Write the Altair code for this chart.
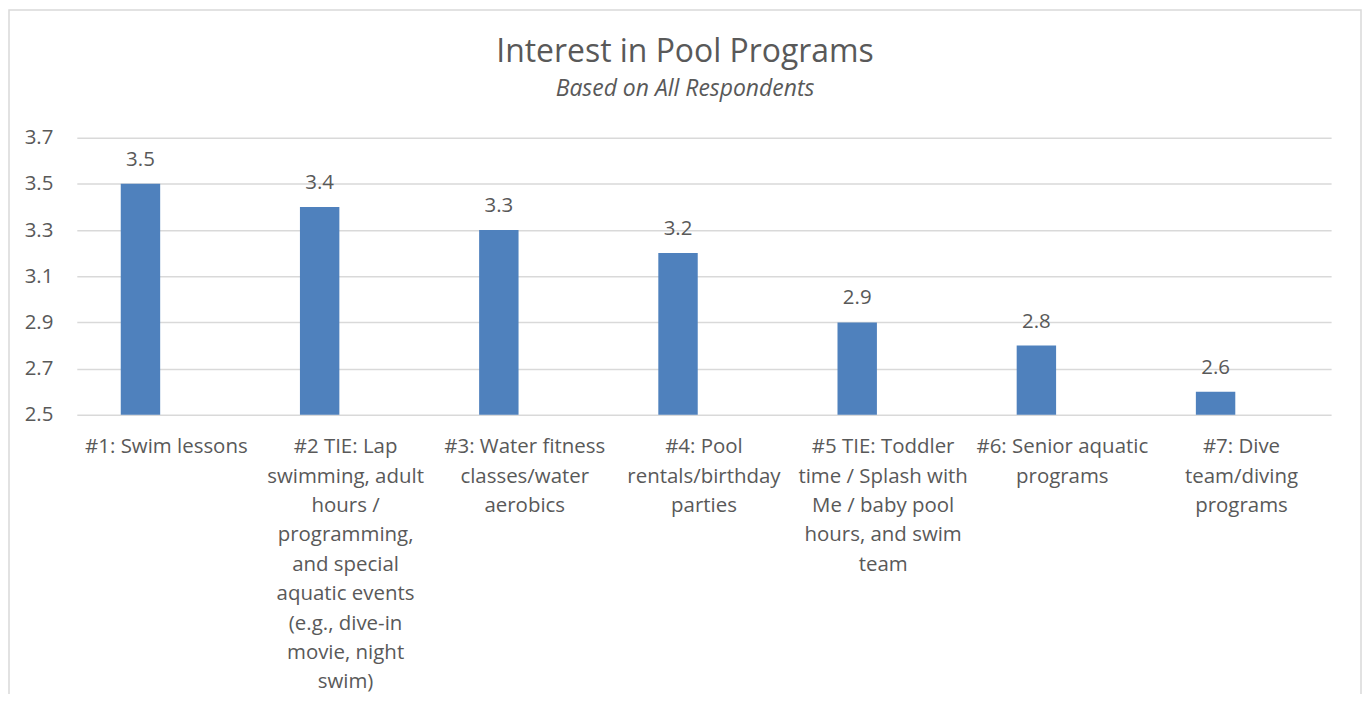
import altair as alt
import pandas as pd

categories = [
    "#1: Swim lessons",
    "#2 TIE: Lap\nswimming, adult\nhours /\nprogramming,\nand special\naquatic events\n(e.g., dive-in\nmovie, night\nswim)",
    "#3: Water fitness\nclasses/water\naerobics",
    "#4: Pool\nrentals/birthday\nparties",
    "#5 TIE: Toddler\ntime / Splash with\nMe / baby pool\nhours, and swim\nteam",
    "#6: Senior aquatic\nprograms",
    "#7: Dive\nteam/diving\nprograms",
]
values = [3.5, 3.4, 3.3, 3.2, 2.9, 2.8, 2.6]
y_ticks = [2.5, 2.7, 2.9, 3.1, 3.3, 3.5, 3.7]
y_min, y_max = 2.5, 3.7

df = pd.DataFrame({"program": categories, "score": values})

FONT = "Open Sans"
TXT = "#595959"
FS = 20.5

x_enc = alt.X(
    "program:N",
    sort=None,
    title=None,
    scale=alt.Scale(paddingInner=0.78, paddingOuter=0.39),
    axis=alt.Axis(
        labelExpr="split(datum.label, '\\n')",
        labelAngle=0,
        labelLimit=0,
        labelLineHeight=29.5,
        labelPadding=22,
        labelBaseline="top",
        labelFontSize=FS,
        labelFont=FONT,
        labelColor=TXT,
        domain=False,
        ticks=False,
        grid=False,
    ),
)
y_enc = alt.Y(
    "score:Q",
    title=None,
    scale=alt.Scale(domain=[y_min, y_max], zero=False, nice=False),
    axis=alt.Axis(
        values=y_ticks,
        format=".1f",
        labelFontSize=FS,
        labelFont=FONT,
        labelColor=TXT,
        labelPadding=24,
        ticks=False,
        domain=False,
        grid=True,
        gridColor="#d9d9d9",
        gridWidth=1.5,
    ),
)

bars = alt.Chart(df).mark_bar(color="#4F81BD", xOffset=-26).encode(
    x=x_enc, y=y_enc, y2=alt.datum(y_min)
)
labels = alt.Chart(df).mark_text(
    baseline="alphabetic", dy=-18, dx=-26, fontSize=FS, font=FONT, color=TXT
).encode(x=x_enc, y=y_enc, text=alt.Text("score:Q", format=".1f"))

frame = alt.Chart(alt.Data(values=[{}])).mark_rect(
    fillOpacity=0, stroke="#d9d9d9", strokeWidth=1.5
).encode(
    x=alt.value(-68), x2=alt.value(1288), y=alt.value(-128), y2=alt.value(700)
)

chart = (
    alt.layer(frame, bars, labels)
    .properties(
        width=1258,
        height=278,
        background="white",
        title=alt.TitleParams(
            text="Interest in Pool Programs",
            subtitle="Based on All Respondents",
            anchor="middle",
            frame="bounds",
            font=FONT,
            fontSize=32,
            fontWeight="normal",
            color=TXT,
            subtitleFont=FONT,
            subtitleFontSize=23,
            subtitleFontStyle="italic",
            subtitleColor=TXT,
            subtitlePadding=9,
            offset=-93,
        ),
        autosize=alt.AutoSizeParams(type="none"),
        padding={"left": 69, "top": 129, "right": 31, "bottom": 279},
    )
    .configure_view(stroke="transparent", strokeWidth=0)
)

chart.save("out.html", embed_options={"renderer": "svg", "actions": False})
